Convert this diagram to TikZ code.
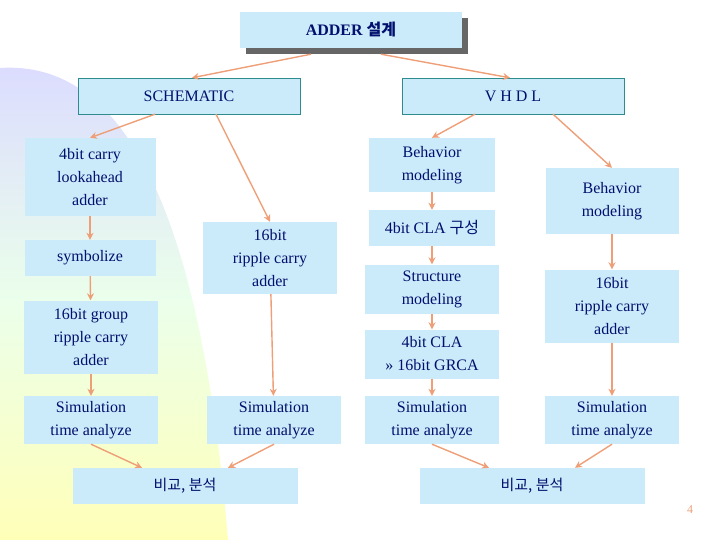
\documentclass[tikz,border=0pt]{standalone}
\usepackage{fontspec}
\setmainfont{Liberation Serif}
\newfontfamily\kor{Noto Sans CJK KR}
\usetikzlibrary{arrows.meta}
\definecolor{boxblue}{HTML}{CCEBFA}
\definecolor{txtnavy}{HTML}{00106E}
\definecolor{arrowor}{HTML}{EE9F78}
\definecolor{frameteal}{HTML}{2E8C8C}
\tikzset{
  box/.style={fill=boxblue, text=txtnavy, align=center, inner sep=0pt,
    font=\fontsize{16}{23}\selectfont},
  link/.style={draw=arrowor, line width=1.4pt, -{Stealth[length=7pt,width=7pt]}}
}
\begin{document}
\begin{tikzpicture}[x=1pt,y=-1pt]
    %% page and background blob
    \useasboundingbox (0,0) rectangle (720,540);
    \shade[top color=blue!14, bottom color=yellow!28, middle color=green!8]
      (0,68) .. controls (120,60) and (200,200) .. (228,540) -- (0,540) -- cycle;

    %% top level
    \fill[gray!80!black] (246,18) rectangle (468,54);
    \node[box, minimum width=222pt, minimum height=36pt, font=\fontsize{16}{20}\selectfont\bfseries] (adder) at (351,30) {ADDER {\kor 설계}};
    \node[box, draw=frameteal, minimum width=222pt, minimum height=36pt] (schem) at (189,96) {SCHEMATIC};
    \node[box, draw=frameteal, minimum width=222pt, minimum height=36pt] (vhdl) at (513,96) {V H D L};

    %% schematic side
    \node[box, minimum width=131pt, minimum height=78pt] (cla) at (90,177) {4bit carry\\lookahead\\adder};
    \node[box, minimum width=131pt, minimum height=36pt] (symb) at (90,258) {symbolize};
    \node[box, minimum width=134pt, minimum height=73pt] (grca) at (91,337) {16bit group\\ripple carry\\adder};
    \node[box, minimum width=134pt, minimum height=72pt] (rcamid) at (270,258) {16bit\\ripple carry\\adder};

    %% vhdl side
    \node[box, minimum width=126pt, minimum height=54pt] (behl) at (432,165) {Behavior\\modeling};
    \node[box, minimum width=126pt, minimum height=36pt] (clak) at (432,228) {4bit CLA {\kor 구성}};
    \node[box, minimum width=134pt, minimum height=49pt] (struc) at (432,289) {Structure\\modeling};
    \node[box, minimum width=134pt, minimum height=49pt] (clagr) at (432,354) {4bit CLA\\>> 16bit GRCA};
    \node[box, minimum width=133pt, minimum height=66pt] (behr) at (612,201) {Behavior\\modeling};
    \node[box, minimum width=134pt, minimum height=73pt] (rcar) at (612,306) {16bit\\ripple carry\\adder};

    %% simulation row
    \node[box, minimum width=134pt, minimum height=48pt] (sima) at (91,420) {Simulation\\time analyze};
    \node[box, minimum width=134pt, minimum height=48pt] (simb) at (274,420) {Simulation\\time analyze};
    \node[box, minimum width=134pt, minimum height=48pt] (simc) at (432,420) {Simulation\\time analyze};
    \node[box, minimum width=134pt, minimum height=48pt] (simd) at (612,420) {Simulation\\time analyze};
    \node[box, minimum width=225pt, minimum height=36pt, font=\kor\fontsize{15}{18}\selectfont] (cmpl) at (185,486) {비교, 분석};
    \node[box, minimum width=225pt, minimum height=36pt, font=\kor\fontsize{15}{18}\selectfont] (cmpr) at (532,486) {비교, 분석};
    \node[text=arrowor, font=\fontsize{12}{14}\selectfont] (pg) at (690,510) {4};

    %% connectors
    \draw[link] ([xshift=-40pt,yshift=-6pt]adder.south) -- ([xshift=3pt]schem.north);
    \draw[link] ([xshift=30pt,yshift=-6pt]adder.south) -- ([xshift=-3pt]vhdl.north);
    \draw[link] ([xshift=-34pt]schem.south) -- (cla.north);
    \draw[link] ([xshift=27pt]schem.south) -- (rcamid.north);
    \draw[link] ([xshift=-38pt]vhdl.south) -- (behl.north);
    \draw[link] ([xshift=40pt]vhdl.south) -- (behr.north);
    \draw[link] (cla) -- (symb);
    \draw[link] (symb) -- (grca);
    \draw[link] (grca) -- (sima);
    \draw[link] (rcamid) -- (simb);
    \draw[link] (behl) -- (clak);
    \draw[link] (clak) -- (struc);
    \draw[link] (struc) -- (clagr);
    \draw[link] (clagr) -- (simc);
    \draw[link] (behr) -- (rcar);
    \draw[link] (rcar) -- (simd);
    \draw[link] (sima.south) -- ([xshift=-43pt]cmpl.north);
    \draw[link] (simb.south) -- ([xshift=43pt]cmpl.north);
    \draw[link] (simc.south) -- ([xshift=-43pt]cmpr.north);
    \draw[link] (simd.south) -- ([xshift=43pt]cmpr.north);
\end{tikzpicture}
\end{document}
